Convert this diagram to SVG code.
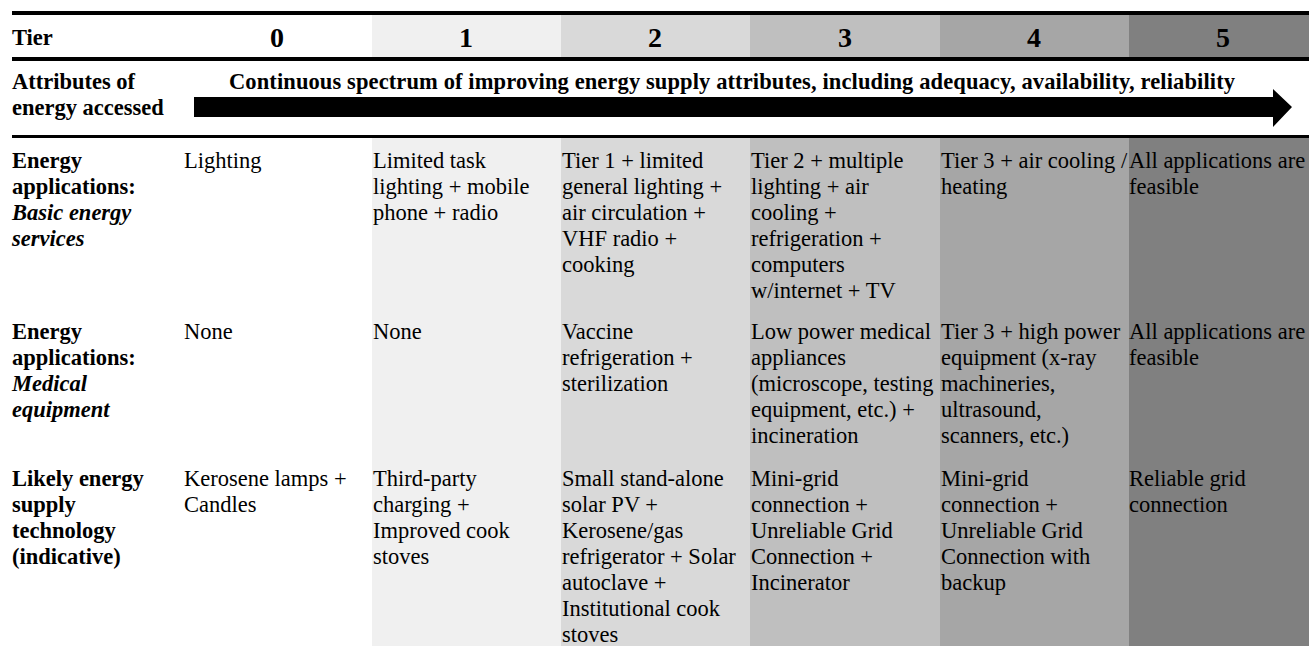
<svg xmlns="http://www.w3.org/2000/svg" width="1309" height="646" viewBox="0 0 1309 646">
<style>
text{font-family:"Liberation Serif","Times New Roman",serif;font-size:22.5px;fill:#000}
.b{font-weight:bold}
.bi{font-weight:bold;font-style:italic}
.num{font-weight:bold;font-size:28px;text-anchor:middle}
.rule{fill:#000}
.c1{fill:#f0f0f0}.c2{fill:#d9d9d9}.c3{fill:#bfbfbf}.c4{fill:#a6a6a6}.c5{fill:#808080}
</style>
<rect width="1309" height="646" fill="#fff"/>
<g id="shading">
<rect class="c1" x="372" y="15" width="189" height="42"/>
<rect class="c2" x="561" y="15" width="189" height="42"/>
<rect class="c3" x="750" y="15" width="190" height="42"/>
<rect class="c4" x="940" y="15" width="189" height="42"/>
<rect class="c5" x="1129" y="15" width="180" height="42"/>
<rect class="c1" x="372" y="138" width="189" height="508"/>
<rect class="c2" x="561" y="138" width="189" height="508"/>
<rect class="c3" x="750" y="138" width="190" height="508"/>
<rect class="c4" x="940" y="138" width="189" height="508"/>
<rect class="c5" x="1129" y="138" width="180" height="508"/>
</g>
<g id="rules">
<rect class="rule" x="12" y="11" width="1297" height="4"/>
<rect class="rule" x="12" y="57" width="1297" height="4"/>
<rect class="rule" x="12" y="135" width="1297" height="3"/>
</g>
<g id="header">
<text class="b" x="12" y="45">Tier</text>
<text class="num" x="277" y="47">0</text>
<text class="num" x="466" y="47">1</text>
<text class="num" x="655" y="47">2</text>
<text class="num" x="845" y="47">3</text>
<text class="num" x="1034" y="47">4</text>
<text class="num" x="1223" y="47">5</text>
</g>
<g id="attributes">
<text class="b"><tspan x="12" y="89">Attributes of</tspan><tspan x="12" y="115">energy accessed</tspan></text>
<text class="b" x="229" y="89" textLength="1006" lengthAdjust="spacing">Continuous spectrum of improving energy supply attributes, including adequacy, availability, reliability</text>
</g>
<g id="connectors">
<path id="arrow" d="M194 97 H1273 V89 L1292 107 L1273 127 V117 H194 Z" fill="#000"/>
</g>
<g id="row-basic">
<text class="b"><tspan x="12" y="168">Energy</tspan><tspan x="12" y="194">applications:</tspan><tspan class="bi" x="12" y="220">Basic energy</tspan><tspan class="bi" x="12" y="246">services</tspan></text>
<g id="basic-0"><text><tspan x="184" y="168">Lighting</tspan></text></g>
<g id="basic-1"><text><tspan x="373" y="168">Limited task</tspan><tspan x="373" y="194">lighting + mobile</tspan><tspan x="373" y="220">phone + radio</tspan></text></g>
<g id="basic-2"><text><tspan x="562" y="168">Tier 1 + limited</tspan><tspan x="562" y="194">general lighting +</tspan><tspan x="562" y="220">air circulation +</tspan><tspan x="562" y="246">VHF radio +</tspan><tspan x="562" y="272">cooking</tspan></text></g>
<g id="basic-3"><text><tspan x="751" y="168">Tier 2 + multiple</tspan><tspan x="751" y="194">lighting + air</tspan><tspan x="751" y="220">cooling +</tspan><tspan x="751" y="246">refrigeration +</tspan><tspan x="751" y="272">computers</tspan><tspan x="751" y="298">w/internet + TV</tspan></text></g>
<g id="basic-4"><text><tspan x="941" y="168">Tier 3 + air cooling /</tspan><tspan x="941" y="194">heating</tspan></text></g>
<g id="basic-5"><text><tspan x="1129" y="168">All applications are</tspan><tspan x="1129" y="194">feasible</tspan></text></g>
</g>
<g id="row-medical">
<text class="b"><tspan x="12" y="339">Energy</tspan><tspan x="12" y="365">applications:</tspan><tspan class="bi" x="12" y="391">Medical</tspan><tspan class="bi" x="12" y="417">equipment</tspan></text>
<g id="medical-0"><text><tspan x="184" y="339">None</tspan></text></g>
<g id="medical-1"><text><tspan x="373" y="339">None</tspan></text></g>
<g id="medical-2"><text><tspan x="562" y="339">Vaccine</tspan><tspan x="562" y="365">refrigeration +</tspan><tspan x="562" y="391">sterilization</tspan></text></g>
<g id="medical-3"><text><tspan x="751" y="339">Low power medical</tspan><tspan x="751" y="365">appliances</tspan><tspan x="751" y="391">(microscope, testing</tspan><tspan x="751" y="417">equipment, etc.) +</tspan><tspan x="751" y="443">incineration</tspan></text></g>
<g id="medical-4"><text><tspan x="941" y="339">Tier 3 + high power</tspan><tspan x="941" y="365">equipment (x-ray</tspan><tspan x="941" y="391">machineries,</tspan><tspan x="941" y="417">ultrasound,</tspan><tspan x="941" y="443">scanners, etc.)</tspan></text></g>
<g id="medical-5"><text><tspan x="1129" y="339">All applications are</tspan><tspan x="1129" y="365">feasible</tspan></text></g>
</g>
<g id="row-supply">
<text class="b"><tspan x="12" y="486">Likely energy</tspan><tspan x="12" y="512">supply</tspan><tspan x="12" y="538">technology</tspan><tspan x="12" y="564">(indicative)</tspan></text>
<g id="supply-0"><text><tspan x="184" y="486">Kerosene lamps +</tspan><tspan x="184" y="512">Candles</tspan></text></g>
<g id="supply-1"><text><tspan x="373" y="486">Third-party</tspan><tspan x="373" y="512">charging +</tspan><tspan x="373" y="538">Improved cook</tspan><tspan x="373" y="564">stoves</tspan></text></g>
<g id="supply-2"><text><tspan x="562" y="486">Small stand-alone</tspan><tspan x="562" y="512">solar PV +</tspan><tspan x="562" y="538">Kerosene/gas</tspan><tspan x="562" y="564">refrigerator + Solar</tspan><tspan x="562" y="590">autoclave +</tspan><tspan x="562" y="616">Institutional cook</tspan><tspan x="562" y="642">stoves</tspan></text></g>
<g id="supply-3"><text><tspan x="751" y="486">Mini-grid</tspan><tspan x="751" y="512">connection +</tspan><tspan x="751" y="538">Unreliable Grid</tspan><tspan x="751" y="564">Connection +</tspan><tspan x="751" y="590">Incinerator</tspan></text></g>
<g id="supply-4"><text><tspan x="941" y="486">Mini-grid</tspan><tspan x="941" y="512">connection +</tspan><tspan x="941" y="538">Unreliable Grid</tspan><tspan x="941" y="564">Connection with</tspan><tspan x="941" y="590">backup</tspan></text></g>
<g id="supply-5"><text><tspan x="1129" y="486">Reliable grid</tspan><tspan x="1129" y="512">connection</tspan></text></g>
</g>
</svg>
